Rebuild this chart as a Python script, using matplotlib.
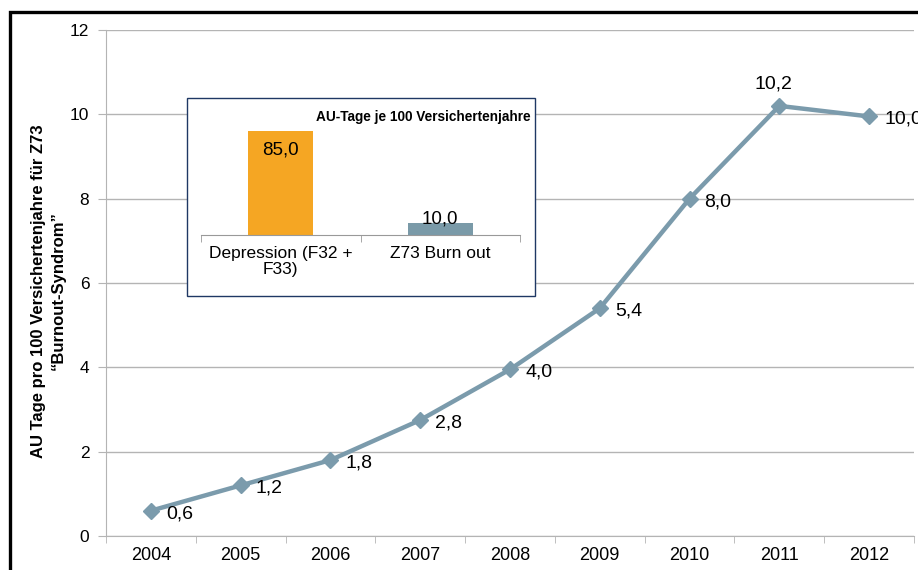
import matplotlib
matplotlib.use("Agg")
import matplotlib.pyplot as plt
from matplotlib.patches import Rectangle

plt.rcParams['font.family'] = ['Liberation Sans', 'DejaVu Sans']

years = ['2004', '2005', '2006', '2007', '2008', '2009', '2010', '2011', '2012']
values = [0.6, 1.2, 1.8, 2.75, 3.95, 5.4, 8.0, 10.2, 9.95]
value_labels = ['0,6', '1,2', '1,8', '2,8', '4,0', '5,4', '8,0', '10,2', '10,0']

inset_categories = ['Depression (F32 +\nF33)', 'Z73 Burn out']
inset_values = [85.0, 10.0]
inset_labels = ['85,0', '10,0']
inset_title = 'AU-Tage je 100 Versichertenjahre'

y_label = 'AU Tage pro 100 Versichertenjahre für Z73\n\u201cBurnout-Syndrom\u201d'

W, H = 918, 570
fig = plt.figure(figsize=(W / 100, H / 100), dpi=100)

def fx(px):
    return px / W

def fy(py):
    return 1 - py / H

line_color = '#7B9BAC'
grid_color = '#B4B4B4'

ax = fig.add_axes([fx(106), fy(536), fx(914) - fx(106), fy(30) - fy(536)])
x = list(range(len(years)))
ax.plot(x, values, color=line_color, lw=3.2, marker='D', ms=8.5,
        markeredgecolor=line_color, markerfacecolor=line_color, zorder=3)
ax.set_xlim(-0.5, len(years) - 0.5)
ax.set_ylim(0, 12)
ax.set_yticks(range(0, 13, 2))
ax.yaxis.grid(True, color=grid_color, lw=1)
ax.set_axisbelow(True)
ax.set_xticks(x)
ax.set_xticklabels(years, fontsize=13)
ax.set_xticks([i - 0.5 for i in range(len(years) + 1)], minor=True)
ax.tick_params(axis='x', which='major', length=0, pad=8)
ax.tick_params(axis='x', which='minor', length=5, color=grid_color, direction='out')
ax.tick_params(axis='y', length=6, color=grid_color, labelsize=12.5, pad=6)
for s in ['top', 'right']:
    ax.spines[s].set_visible(False)
for s in ['left', 'bottom']:
    ax.spines[s].set_color(grid_color)
fig.text(fx(48), fy(291), y_label, rotation=90, ha='center', va='center',
         fontsize=12, fontweight='bold', linespacing=1.4, multialignment='center')

for i, (v, lab) in enumerate(zip(values, value_labels)):
    if i == 7:
        ax.annotate(lab, (i, v), xytext=(-6, 22), textcoords='offset pixels',
                    ha='center', va='center', fontsize=14)
    else:
        ax.annotate(lab, (i, v), xytext=(15, -3), textcoords='offset pixels',
                    ha='left', va='center', fontsize=14, annotation_clip=False)

# inset box
box = Rectangle((fx(187), fy(296)), fx(535) - fx(187), fy(98) - fy(296),
                transform=fig.transFigure, facecolor='white', edgecolor='#1F3864',
                lw=1.0, zorder=4)
fig.patches.append(box)

iax = fig.add_axes([fx(201), fy(235), fx(520) - fx(201), 122 / H], zorder=5)
iax.patch.set_alpha(0)
bar_colors = ['#F5A623', '#7A9AA8']
ix = list(range(len(inset_categories)))
iax.bar(ix, inset_values, width=0.41, color=bar_colors)
iax.set_xlim(-0.5, len(inset_categories) - 0.5)
iax.set_ylim(0, 100)
iax.set_yticks([])
iax.set_xticks(ix)
iax.set_xticklabels(inset_categories, fontsize=12.5, linespacing=1.1)
iax.set_xticks([i - 0.5 for i in range(len(inset_categories) + 1)], minor=True)
iax.tick_params(axis='x', which='major', length=0, pad=8)
iax.tick_params(axis='x', which='minor', length=5, color='#999999')
for s in ['top', 'right', 'left']:
    iax.spines[s].set_visible(False)
iax.spines['bottom'].set_color('#999999')
iax.annotate(inset_labels[0], (0, inset_values[0]), xytext=(0, -19), textcoords='offset pixels',
             ha='center', va='center', fontsize=13.5)
iax.annotate(inset_labels[1], (1, inset_values[1]), xytext=(0, 4), textcoords='offset pixels',
             ha='center', va='center', fontsize=13.5)
fig.text(fx(531), fy(117), inset_title, ha='right', va='center', fontsize=9.8,
         fontweight='bold', zorder=6)

# outer black frame (cropped at right and bottom)
frame = Rectangle((fx(10), fy(H + 20)), fx(W + 20) - fx(10), fy(12) - fy(H + 20),
                  transform=fig.transFigure, facecolor='none', edgecolor='black', lw=2.4)
fig.patches.append(frame)

fig.savefig('out.png', dpi=100)
